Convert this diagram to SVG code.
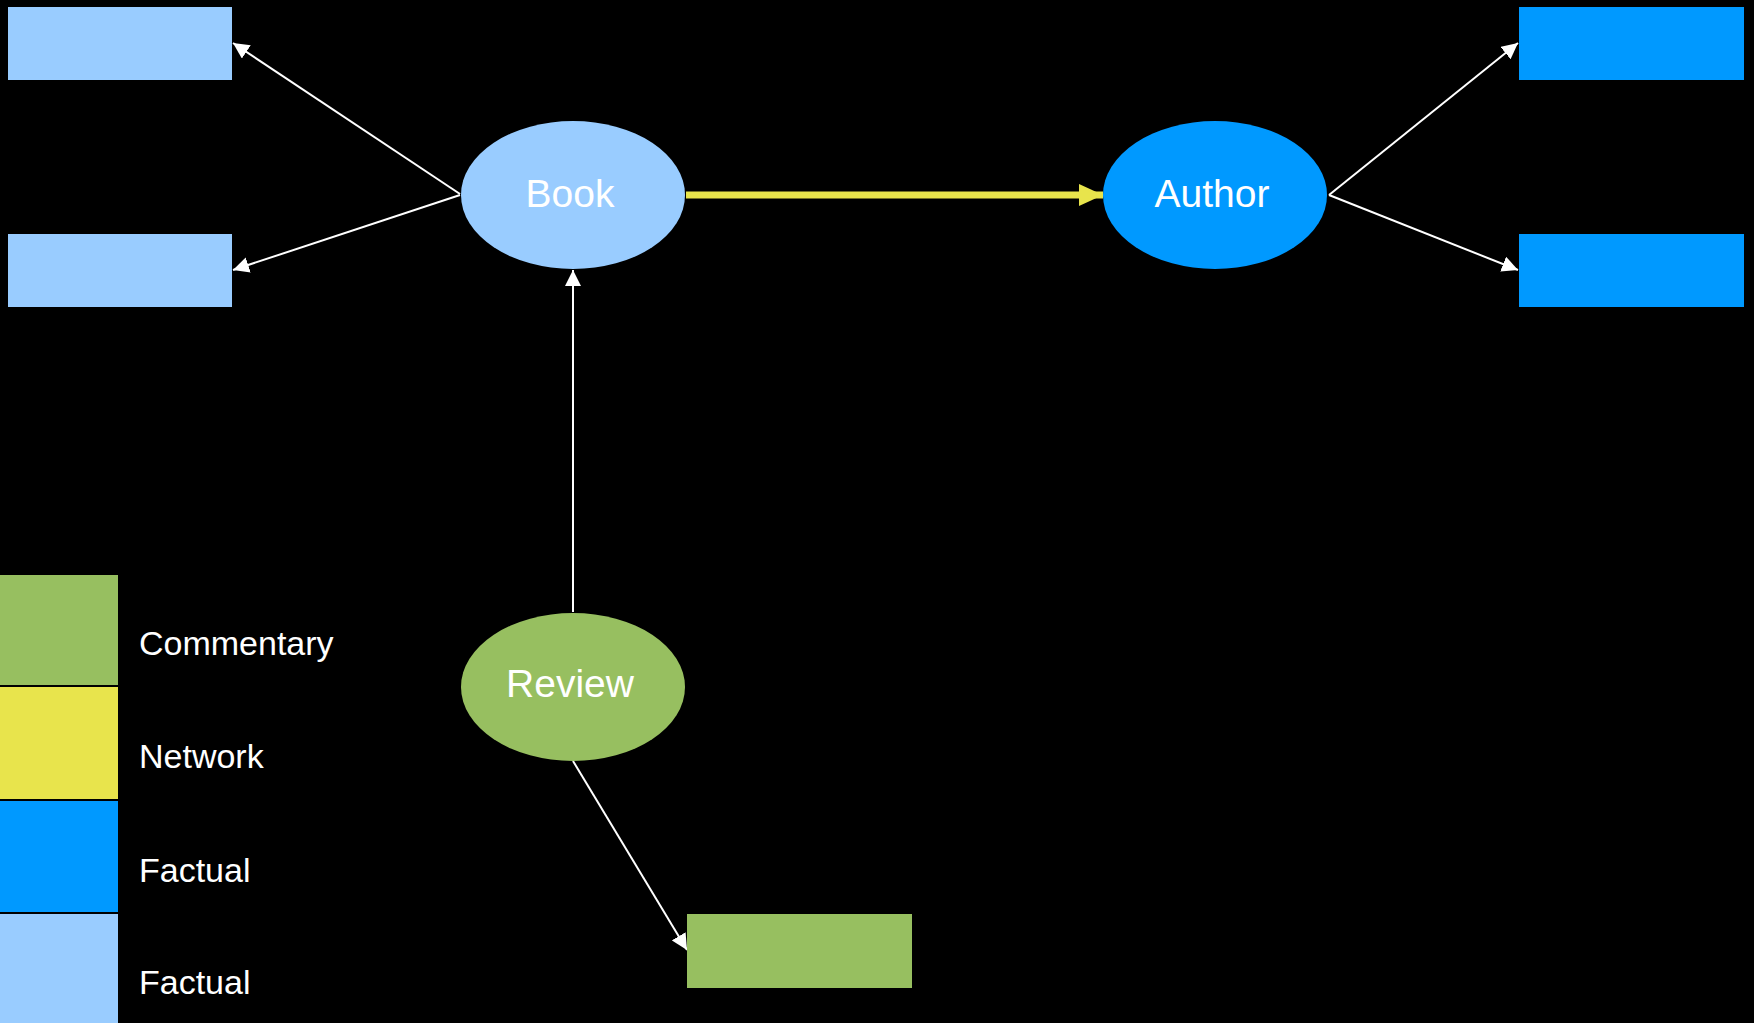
<svg xmlns="http://www.w3.org/2000/svg" width="1754" height="1023" viewBox="0 0 1754 1023">
<defs>
<style>
.lb{fill:#99ccff;}
.db{fill:#0099ff;}
.gr{fill:#97bf60;}
.ye{fill:#e8e44c;}
.lbl{font-family:"Liberation Sans",Arial,sans-serif;fill:#ffffff;}
.node{font-size:39px;text-anchor:middle;}
.leg{font-size:34px;}
.wl{stroke:#ffffff;stroke-width:2;fill:none;}
.yl{stroke:#e8e44c;stroke-width:7;fill:none;}
.lg{stroke:#000000;stroke-width:2;}
</style>
<marker id="wa" markerUnits="userSpaceOnUse" markerWidth="17" markerHeight="16" refX="16" refY="8" orient="auto" viewBox="0 0 17 16">
<path d="M0,0 L16,8 L0,16 z" fill="#ffffff"/>
</marker>
<marker id="ya" markerUnits="userSpaceOnUse" markerWidth="25" markerHeight="22" refX="24" refY="11" orient="auto" viewBox="0 0 25 22">
<path d="M0,0 L24,11 L0,22 z" fill="#e8e44c"/>
</marker>
</defs>
<rect x="0" y="0" width="1754" height="1023" fill="#000000"/>

<g id="connectors">
<line class="wl" x1="460" y1="194" x2="233" y2="43" marker-end="url(#wa)"/>
<line class="wl" x1="460" y1="195" x2="233" y2="270" marker-end="url(#wa)"/>
<line class="yl" x1="686" y1="195" x2="1103" y2="195" marker-end="url(#ya)"/>
<line class="wl" x1="1329" y1="195" x2="1518" y2="43" marker-end="url(#wa)"/>
<line class="wl" x1="1329" y1="195" x2="1518" y2="270" marker-end="url(#wa)"/>
<line class="wl" x1="573" y1="612" x2="573" y2="270" marker-end="url(#wa)"/>
<line class="wl" x1="573" y1="761" x2="687" y2="950" marker-end="url(#wa)"/>
</g>

<g id="book-attr-1"><rect class="lb" x="8" y="7" width="224" height="73"/></g>
<g id="book-attr-2"><rect class="lb" x="8" y="234" width="224" height="73"/></g>
<g id="author-attr-1"><rect class="db" x="1519" y="7" width="225" height="73"/></g>
<g id="author-attr-2"><rect class="db" x="1519" y="234" width="225" height="73"/></g>
<g id="review-attr"><rect class="gr" x="687" y="914" width="225" height="74"/></g>

<g id="book">
<ellipse class="lb" cx="573" cy="195" rx="112" ry="74"/>
<text class="lbl node" x="570" y="207">Book</text>
</g>
<g id="author">
<ellipse class="db" cx="1215" cy="195" rx="112" ry="74"/>
<text class="lbl node" x="1212" y="207">Author</text>
</g>
<g id="review">
<ellipse class="gr" cx="573" cy="687" rx="112" ry="74"/>
<text class="lbl node" x="570" y="697">Review</text>
</g>

<g id="legend">
<rect class="gr lg" x="-2" y="574" width="121" height="112"/>
<rect class="ye lg" x="-2" y="686" width="121" height="114"/>
<rect class="db lg" x="-2" y="800" width="121" height="113"/>
<rect class="lb lg" x="-2" y="913" width="121" height="112"/>
<text class="lbl leg" x="139" y="655">Commentary</text>
<text class="lbl leg" x="139" y="768">Network</text>
<text class="lbl leg" x="139" y="882">Factual</text>
<text class="lbl leg" x="139" y="994">Factual</text>
</g>
</svg>
